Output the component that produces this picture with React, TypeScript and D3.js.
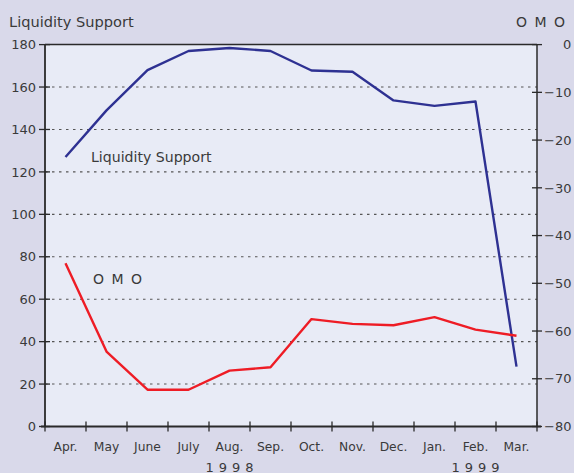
import React from "react";
import * as d3 from "d3";

const months = ["Apr.", "May", "June", "July", "Aug.", "Sep.", "Oct.", "Nov.", "Dec.", "Jan.", "Feb.", "Mar."];
const liquiditySupport = [127, 149, 168, 177, 178.4, 177, 167.8, 167.2, 153.7, 151.1, 153.2, 28.2];
const omo = [-45.8, -64.3, -72.3, -72.3, -68.3, -67.6, -57.5, -58.5, -58.8, -57.1, -59.7, -61.0];
const leftTicks = [0, 20, 40, 60, 80, 100, 120, 140, 160, 180];
const rightTicks = [0, -10, -20, -30, -40, -50, -60, -70, -80];
const years = [
  { label: "1998", from: "Apr.", to: "Dec." },
  { label: "1999", from: "Jan.", to: "Mar." },
];

const W = 574;
const H = 473;
const L = 45;
const R = 537;
const T = 44.6;
const B = 426.5;
const FONT = "'DejaVu Sans', sans-serif";
const TEXT = "#3a3a3a";

export default function App() {
  const x = d3.scaleBand<string>().domain(months).range([L, R]);
  const yL = d3.scaleLinear().domain([0, 180]).range([B, T]);
  const yR = d3.scaleLinear().domain([-80, 0]).range([B, T]);
  const cx = (m: string) => (x(m) as number) + x.bandwidth() / 2;

  const lineL = d3
    .line<number>()
    .x((_, i) => cx(months[i]))
    .y((d) => yL(d));
  const lineR = d3
    .line<number>()
    .x((_, i) => cx(months[i]))
    .y((d) => yR(d));

  const boundaries = months.map((m) => x(m) as number).concat([R]);

  return (
    <div style={{ position: "fixed", left: 0, top: 0 }}>
      <svg width={W} height={H} style={{ display: "block" }} fontFamily={FONT}>
        <rect x={0} y={0} width={W} height={H} fill="#d9d9ea" />
        <rect x={L} y={T} width={R - L} height={B - T} fill="#e8ebf6" />

        {/* gridlines */}
        {leftTicks
          .filter((t) => t > 0 && t < 180)
          .map((t) => (
            <line
              key={"g" + t}
              x1={L}
              x2={R}
              y1={yL(t)}
              y2={yL(t)}
              stroke="#555"
              strokeWidth={1.1}
              strokeDasharray="2.5,4.5"
            />
          ))}

        {/* lines */}
        <path d={lineL(liquiditySupport) || ""} fill="none" stroke="#2e3192" strokeWidth={2.4} strokeLinejoin="round" />
        <path d={lineR(omo) || ""} fill="none" stroke="#ee1c25" strokeWidth={2.4} strokeLinejoin="round" />

        {/* frame */}
        <line x1={L} x2={R} y1={T} y2={T} stroke="#2a2a2a" strokeWidth={1.5} />
        <line x1={L} x2={L} y1={T} y2={B} stroke="#2a2a2a" strokeWidth={1.8} />
        <line x1={R} x2={R} y1={T} y2={B} stroke="#2a2a2a" strokeWidth={1.5} />
        <line x1={L - 4} x2={R + 4} y1={B} y2={B} stroke="#2a2a2a" strokeWidth={1.8} />

        {/* left axis */}
        {leftTicks.map((t) => (
          <g key={"l" + t}>
            <line x1={L - 6} x2={L + 5} y1={yL(t)} y2={yL(t)} stroke="#2a2a2a" strokeWidth={1.3} />
            <text x={L - 9} y={yL(t) + 4.7} textAnchor="end" fontSize={13} fill={TEXT}>
              {t}
            </text>
          </g>
        ))}

        {/* right axis */}
        {rightTicks.map((t) => (
          <g key={"r" + t}>
            <line x1={R - 5} x2={R + 5} y1={yR(t)} y2={yR(t)} stroke="#2a2a2a" strokeWidth={1.3} />
            <text x={t === 0 ? 563 : 544} y={yR(t) + 4.7} textAnchor="start" fontSize={13} fill={TEXT}>
              {t === 0 ? "0" : "\u2212" + Math.abs(t)}
            </text>
          </g>
        ))}

        {/* x axis */}
        {boundaries.map((bx, i) => (
          <line key={"x" + i} x1={bx} x2={bx} y1={B - 5} y2={B + 5} stroke="#2a2a2a" strokeWidth={1.3} />
        ))}
        {months.map((m) => (
          <text key={m} x={cx(m)} y={451} textAnchor="middle" fontSize={12.3} fill={TEXT}>
            {m}
          </text>
        ))}
        {years.map((yr) => {
          const c = ((x(yr.from) as number) + (x(yr.to) as number) + x.bandwidth()) / 2;
          return (
            <text key={yr.label} x={c + 2.5} y={472} textAnchor="middle" fontSize={13} letterSpacing={5} fill={TEXT}>
              {yr.label}
            </text>
          );
        })}

        {/* titles */}
        <text x={9} y={26.5} fontSize={14.6} fill={TEXT}>
          Liquidity Support
        </text>
        <text x={516} y={26.5} fontSize={14} letterSpacing={1.5} fill={TEXT}>
          O M O
        </text>

        {/* inline labels */}
        <text x={91} y={161.5} fontSize={14.1} fill={TEXT}>
          Liquidity Support
        </text>
        <text x={93} y={284} fontSize={14} letterSpacing={1.5} fill={TEXT}>
          O M O
        </text>
      </svg>
    </div>
  );
}
